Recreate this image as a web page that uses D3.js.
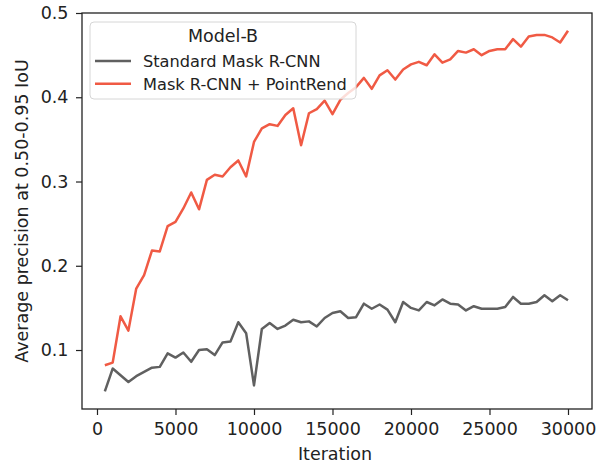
<!DOCTYPE html>
<html>
<head>
<meta charset="utf-8">
<script src="https://cdn.jsdelivr.net/npm/d3@7"></script>
<style>
  body { margin: 0; background: #fff; }
  text { font-family: 'DejaVu Sans', sans-serif; fill: #222; }
</style>
</head>
<body>
<div id="chart"></div>
<script>
const iterations = [500, 1000, 1500, 2000, 2500, 3000, 3500, 4000, 4500, 5000,
  5500, 6000, 6500, 7000, 7500, 8000, 8500, 9000, 9500, 10000,
  10500, 11000, 11500, 12000, 12500, 13000, 13500, 14000, 14500, 15000,
  15500, 16000, 16500, 17000, 17500, 18000, 18500, 19000, 19500, 20000,
  20500, 21000, 21500, 22000, 22500, 23000, 23500, 24000, 24500, 25000,
  25500, 26000, 26500, 27000, 27500, 28000, 28500, 29000, 29500, 30000]

const standardMask = [0.051, 0.078, 0.070, 0.062, 0.069, 0.074, 0.079, 0.080, 0.096, 0.091,
  0.097, 0.086, 0.100, 0.101, 0.094, 0.109, 0.110, 0.133, 0.120, 0.058,
  0.125, 0.132, 0.125, 0.129, 0.136, 0.133, 0.134, 0.128, 0.138, 0.144,
  0.146, 0.138, 0.139, 0.155, 0.149, 0.154, 0.148, 0.133, 0.157, 0.150,
  0.147, 0.157, 0.153, 0.160, 0.155, 0.154, 0.147, 0.152, 0.149, 0.149,
  0.149, 0.151, 0.163, 0.155, 0.155, 0.157, 0.165, 0.158, 0.165, 0.159]

const pointRend = [0.082, 0.085, 0.140, 0.123, 0.173, 0.189, 0.218, 0.217, 0.247, 0.252,
  0.268, 0.287, 0.267, 0.302, 0.308, 0.306, 0.317, 0.325, 0.306, 0.347,
  0.363, 0.368, 0.366, 0.379, 0.387, 0.343, 0.381, 0.386, 0.396, 0.380,
  0.397, 0.405, 0.412, 0.423, 0.410, 0.426, 0.432, 0.421, 0.433, 0.439,
  0.442, 0.438, 0.451, 0.441, 0.445, 0.455, 0.453, 0.457, 0.450, 0.455,
  0.457, 0.457, 0.469, 0.460, 0.472, 0.474, 0.474, 0.471, 0.465, 0.479]

const xTicks = [0, 5000, 10000, 15000, 20000, 25000, 30000]
const yTicks = [0.1, 0.2, 0.3, 0.4, 0.5]

const legendTitle = 'Model-B'
const seriesNames = ['Standard Mask R-CNN', 'Mask R-CNN + PointRend']
const seriesColors = ['#606060', '#f05a44']

const margin = { top: 13, left: 82, right: 18, bottom: 58 }
const width = 610 - margin.left - margin.right
const height = 467 - margin.top - margin.bottom

const svg = d3
  .select('#chart')
  .append('svg')
  .attr('width', width + margin.left + margin.right)
  .attr('height', height + margin.top + margin.bottom)
  .append('g')
  .attr('transform', 'translate(' + margin.left + ',' + margin.top + ')')

const xPositionScale = d3.scaleLinear().domain([-955, 31529]).range([0, width])
const yPositionScale = d3.scaleLinear().domain([0.03, 0.5]).range([height, 0])

const line = d3
  .line()
  .x((d, i) => xPositionScale(iterations[i]))
  .y(d => yPositionScale(d))

// gray first, red drawn on top
const series = [standardMask, pointRend]
series.forEach((values, i) => {
  svg
    .append('path')
    .datum(values)
    .attr('d', line)
    .attr('fill', 'none')
    .attr('stroke', seriesColors[i])
    .attr('stroke-width', 2.5)
    .attr('stroke-linejoin', 'round')
})

// axes
const xAxis = d3
  .axisBottom(xPositionScale)
  .tickValues(xTicks)
  .tickFormat(d3.format('d'))
  .tickSize(6)
  .tickPadding(7.5)
svg
  .append('g')
  .attr('class', 'axis x-axis')
  .attr('transform', 'translate(0,' + height + ')')
  .call(xAxis)

const yAxis = d3
  .axisLeft(yPositionScale)
  .tickValues(yTicks)
  .tickFormat(d3.format('.1f'))
  .tickSize(6)
  .tickPadding(7.5)
svg
  .append('g')
  .attr('class', 'axis y-axis')
  .call(yAxis)

svg.selectAll('.axis .domain').remove()
svg.selectAll('.axis text')
  .attr('font-size', 17.5)
  .attr('font-family', 'DejaVu Sans')
  .attr('fill', '#222')
svg.selectAll('.axis line').attr('stroke', '#222').attr('stroke-width', 1.2)

// frame
svg
  .append('rect')
  .attr('width', width)
  .attr('height', height)
  .attr('fill', 'none')
  .attr('stroke', '#222')
  .attr('stroke-width', 1.3)

// axis labels
svg
  .append('text')
  .attr('x', 253)
  .attr('y', 460 - margin.top)
  .attr('text-anchor', 'middle')
  .attr('font-size', 17.5)
  .text('Iteration')

svg
  .append('text')
  .attr('transform', 'translate(' + (28 - margin.left) + ',' + height / 2 + ') rotate(-90)')
  .attr('text-anchor', 'middle')
  .attr('font-size', 17.5)
  .text('Average precision at 0.50-0.95 IoU')

// legend
const legend = svg.append('g').attr('transform', 'translate(' + (90 - margin.left) + ',' + (22 - margin.top) + ')')

legend
  .append('rect')
  .attr('width', 266)
  .attr('height', 77)
  .attr('rx', 4)
  .attr('fill', '#fff')
  .attr('fill-opacity', 0.8)
  .attr('stroke', '#d6d6d6')
  .attr('stroke-width', 1)

legend
  .append('text')
  .attr('x', 133)
  .attr('y', 20)
  .attr('text-anchor', 'middle')
  .attr('font-size', 17.5)
  .text(legendTitle)

seriesNames.forEach((name, i) => {
  const y = 39 + i * 22.7
  legend
    .append('line')
    .attr('x1', 5)
    .attr('x2', 41)
    .attr('y1', y)
    .attr('y2', y)
    .attr('stroke', seriesColors[i])
    .attr('stroke-width', 2.5)
  legend
    .append('text')
    .attr('x', 53)
    .attr('y', y + 6)
    .attr('font-size', 16.2)
    .text(name)
})
</script>
</body>
</html>
